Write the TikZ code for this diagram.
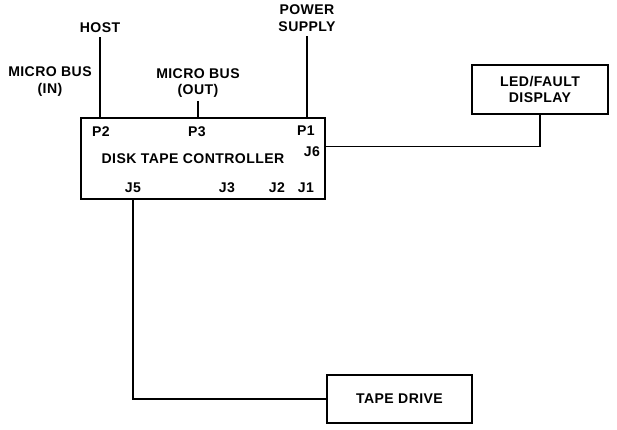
\documentclass[tikz,border=0pt]{standalone}
\usepackage{fontspec}
\setmainfont[LetterSpace=3]{Liberation Sans}
\usepackage{tikz}
\usetikzlibrary{positioning}

\begin{document}
\begin{tikzpicture}[x=0.025cm, y=-0.025cm,
    box/.style={draw, line width=1.2pt, inner sep=0pt},
    lbl/.style={font=\bfseries\fontsize{10}{12}\selectfont, align=center, inner sep=0pt},
    wire/.style={line width=0.8pt}]

    % --- 全体の大きさ ---
    \useasboundingbox (0,0) rectangle (617,429);

    % --- ブロック ---
    \node[box, minimum width=6.1cm, minimum height=2.025cm] (ctrl) at (203,158.5) {};
    \node[box, lbl, minimum width=3.4cm, minimum height=1.225cm] (led) at (540,89.5) {LED/FAULT\\DISPLAY};
    \node[box, lbl, minimum width=3.625cm, minimum height=1.2cm] (tape) at (399.5,399) {TAPE DRIVE};

    % --- コントローラ内のラベル ---
    \node[lbl] (name) at (193,159) {DISK TAPE CONTROLLER};
    \node[lbl] (p2) at (101,132) {P2};
    \node[lbl] (p3) at (197,132) {P3};
    \node[lbl] (p1) at (306,131) {P1};
    \node[lbl] (j6) at (312,152) {J6};
    \node[lbl] (j5) at (133,188) {J5};
    \node[lbl] (j3) at (227,188) {J3};
    \node[lbl] (j2) at (277,188) {J2};
    \node[lbl] (j1) at (306,188) {J1};

    % --- 外部の接続先 ---
    \node[lbl] (power) at (307,18.5) {POWER\\SUPPLY};
    \node[lbl] (host) at (100,28) {HOST};
    \node[lbl] (busin) at (50,81.5) {MICRO BUS\\(IN)};
    \node[lbl] (busout) at (198,83) {MICRO BUS\\(OUT)};

    % --- 配線 ---
    \draw[wire] ([yshift=-3pt]host.south) -- (host.south |- ctrl.north);
    \draw[wire] ([yshift=-2pt]busout.south) -- (busout.south |- ctrl.north);
    \draw[wire] ([yshift=-3pt]power.south) -- (power.south |- ctrl.north);
    \draw[wire] (ctrl.east |- j6.north) -| (led.south);
    \draw[wire] (j5 |- ctrl.south) |- (tape.west);

\end{tikzpicture}
\end{document}
